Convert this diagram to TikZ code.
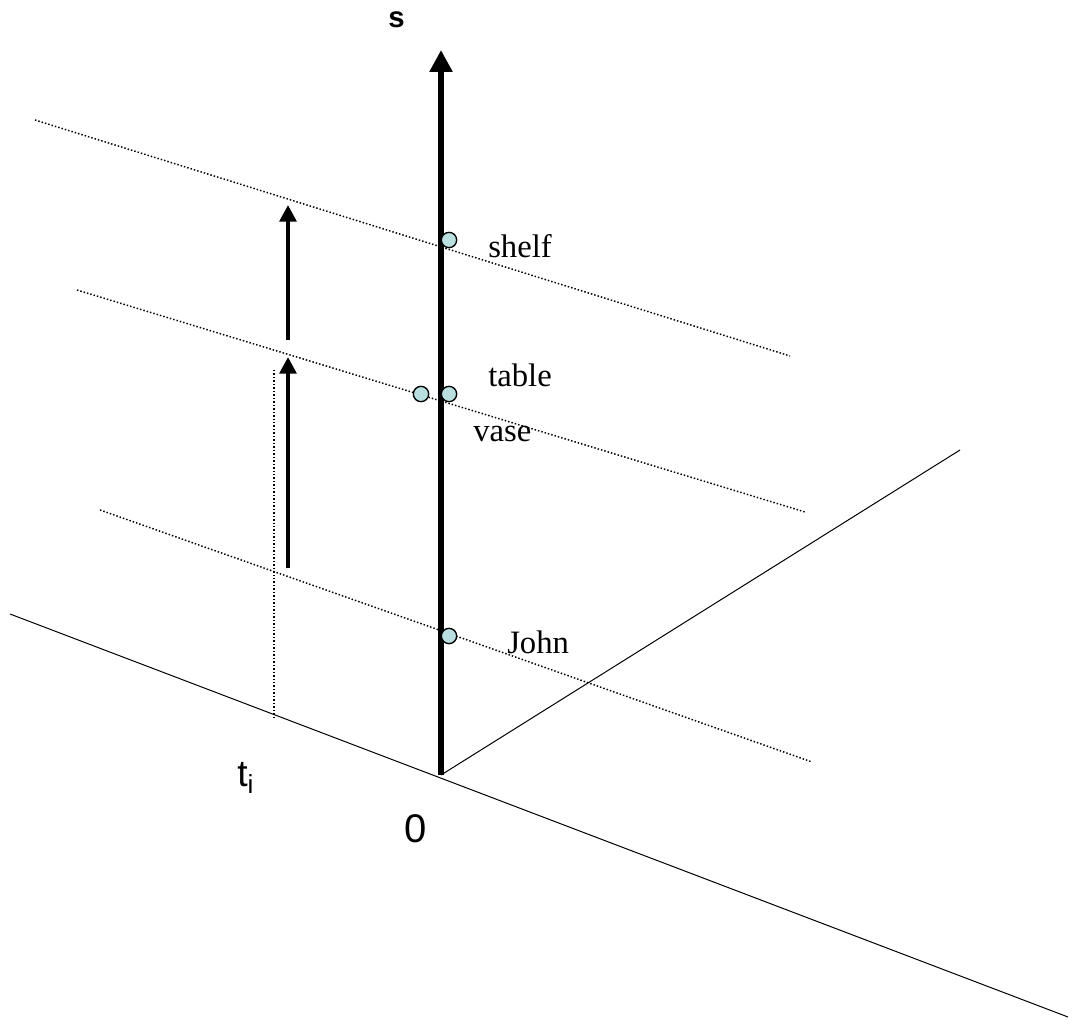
\documentclass[tikz,border=0pt]{standalone}
\usepackage{fontspec}
\setmainfont{Liberation Serif}
\setsansfont{Liberation Sans}
\usepackage{tikz}
\usetikzlibrary{arrows.meta, positioning}

\definecolor{dotfill}{HTML}{B9DFE0}

\begin{document}
\begin{tikzpicture}[
        x=0.75pt, y=-0.75pt,
        axis/.style={line width=0.75pt},
        guide/.style={line width=1.1pt, dash pattern=on 1.1pt off 1.5pt},
        mainaxis/.style={line width=5.2pt, -{Triangle[length=16.5pt, width=16.5pt]}},
        move/.style={line width=3pt, -{Triangle[length=12.5pt, width=12.5pt]}},
        obj/.style={circle, draw, line width=1pt, fill=dotfill, minimum size=11.5pt, inner sep=0pt},
        lbl/.style={font=\fontsize{24.5}{26}\selectfont, anchor=base west, inner sep=0pt},
        sflbl/.style={font=\sffamily\fontsize{28}{30}\selectfont, anchor=base west, inner sep=0pt}
    ]
        \useasboundingbox (0,0) rectangle (1073,1030);

        % axes
        \coordinate (o)     at (441,775);
        \coordinate (top)   at (441,50);
        \coordinate (tl)    at (10,614);
        \coordinate (tr)    at (1068,1017);
        \coordinate (ur)    at (960,450);
        \draw[axis] (tl) -- (tr);
        \draw[axis] (o) -- (ur);

        % dotted levels
        \coordinate (l1a) at (35,120);  \coordinate (l1b) at (790,356);
        \coordinate (l2a) at (77,290);  \coordinate (l2b) at (805,512);
        \coordinate (l3a) at (100,510); \coordinate (l3b) at (812,762);
        \draw[guide] (l1a) -- (l1b);
        \draw[guide] (l2a) -- (l2b);
        \draw[guide] (l3a) -- (l3b);

        \coordinate (ti1) at (274,370);
        \coordinate (ti0) at (274,718);
        \draw[guide] (ti1) -- (ti0);

        \draw[mainaxis] (o) -- (top);

        % movements
        \coordinate (m1a) at (288,568); \coordinate (m1b) at (288,357);
        \coordinate (m2a) at (288,340); \coordinate (m2b) at (288,205);
        \draw[move] (m1a) -- (m1b);
        \draw[move] (m2a) -- (m2b);

        % objects
        \node[obj] (shelf) at (449,240) {};
        \node[obj] (table) at (449,394) {};
        \node[obj] (vase)  at (421,394) {};
        \node[obj] (john)  at (449,636) {};

        \node[lbl] (shelflbl) at (488,258) {shelf};
        \node[lbl] (tablelbl) at (488,386) {table};
        \node[lbl] (vaselbl)  at (473,441) {vase};
        \node[lbl] (johnlbl)  at (507,653) {John};

        \node[font=\sffamily\bfseries\fontsize{22}{24}\selectfont, anchor=base west, inner sep=0pt] (slbl) at (388,28) {s};
        \node[sflbl] (tilbl) at (237,786) {t\textsubscript{i}};
        \node[sflbl, font=\sffamily\fontsize{30}{32}\selectfont] (zero) at (404,842) {0};
    \end{tikzpicture}
\end{document}
